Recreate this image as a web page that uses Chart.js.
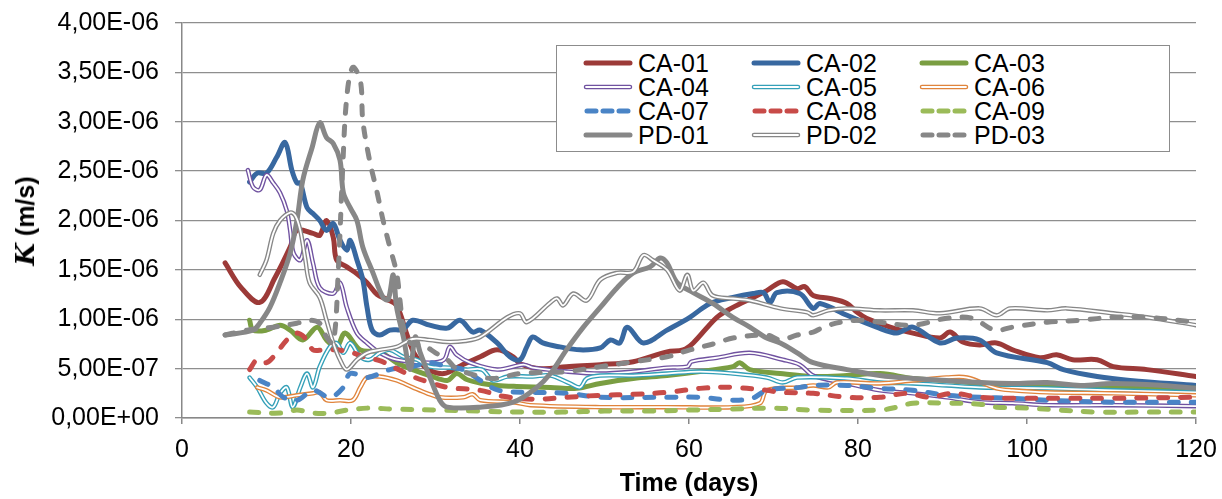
<!DOCTYPE html>
<html>
<head>
<meta charset="utf-8">
<script src="https://cdn.jsdelivr.net/npm/chart.js@4.4.1/dist/chart.umd.min.js"></script>
<style>
  html, body { margin: 0; padding: 0; background: #fff; }
  #wrap { position: relative; width: 1222px; height: 499px; }
  #legend {
    position: absolute; left: 556px; top: 45px; width: 612px; height: 105px;
    border: 1.5px solid #8c8c8c; background: #fff;
    font-family: 'Liberation Sans', Arial, sans-serif; font-size: 25px; color: #000;
  }
  .item { position: absolute; display: flex; align-items: center; height: 24px; white-space: nowrap; }
  .item svg { margin-right: 5px; }
  #ytitle {
    position: absolute; left: 25px; top: 221px; transform: translate(-50%, -50%) rotate(-90deg);
    white-space: nowrap; font: bold 25px 'Liberation Sans', Arial, sans-serif; color: #000;
  }
  #ytitle i { font-family: 'DejaVu Serif', 'Liberation Serif', serif; font-weight: bold; font-size: 26px; }
</style>
</head>
<body>
<div id="wrap">
  <canvas id="chart" width="1222" height="499"></canvas>
  <div id="ytitle"><i>K</i> (m/s)</div>
  <div id="legend"></div>
</div>
<script>
// values: [day, K in 1e-7 m/s]
const UNIT = 1e-7

const labels = ['CA-01', 'CA-02', 'CA-03', 'CA-04', 'CA-05', 'CA-06', 'CA-07', 'CA-08', 'CA-09', 'PD-01', 'PD-02', 'PD-03']

const ca01 = [[5.1,15.7],[7,13.2],[9.2,11.7],[11,14.2],[12.8,17.3],[13.6,19.0],[15.5,18.7],[16.3,18.5],[17.1,20.0],[17.9,18.3],[18.3,16.0],[19.5,15.3],[20.7,14.6],[21.9,13.7],[23.1,12.5],[24.3,12.0],[25.4,11.4],[26.6,8.5],[27.5,6.5],[29,5.0],[31,4.5],[33,5.3],[35.3,6.2],[37.3,6.9],[39.2,6.2],[40,5.5],[42.5,5.0],[45.5,5.2],[49.5,5.4],[53.4,5.7],[57.4,6.7],[59.3,6.9],[60.5,7.6],[63.3,10.2],[65.2,11.2],[67.6,12.2],[69.2,12.9],[71.1,13.8],[72.8,13.1],[73.7,13.3],[74.7,12.4],[76.7,12.1],[78.7,11.6],[79.9,10.7],[81,10.1],[83.8,9.2],[86.5,8.6],[89.7,8.1],[90.9,8.7],[92.4,7.7],[94.4,7.4],[96.4,7.6],[98.3,6.9],[101.5,6.1],[103.5,6.4],[105.4,5.9],[108.3,5.9],[110.2,5.2],[114.2,4.9],[120,4.2]]

const ca02 = [[8.0,23.9],[8.9,24.8],[10.0,24.8],[11.2,26.4],[12.2,27.9],[13.0,25.1],[13.6,23.8],[14.0,23.8],[14.8,21.3],[15.5,20.7],[16.3,20.0],[17.1,19.0],[17.9,19.7],[18.7,18.0],[19.5,17.0],[19.9,18.0],[20.7,16.0],[21.4,14.0],[21.9,11.2],[22.5,8.9],[23.4,8.4],[24.6,8.9],[26.2,9.0],[27.3,9.9],[29.3,9.4],[31.4,9.1],[32.9,9.9],[34.4,8.7],[35.3,8.9],[37.3,7.6],[38.8,6.2],[40,5.9],[40.8,7.2],[41.5,8.2],[42.7,7.6],[44.7,7.2],[47.1,6.9],[49.5,7.1],[50.7,7.9],[51.8,7.6],[52.7,9.2],[54.6,7.6],[57.4,8.9],[60.1,10.2],[62.5,11.6],[65.2,12.2],[67.6,12.6],[68.8,12.7],[69.6,11.7],[70.4,12.7],[73.1,12.6],[74.7,11.1],[75.5,11.6],[78.7,10.4],[82.2,9.2],[84.6,8.6],[86.5,9.2],[89.7,7.6],[91.7,8.1],[94.4,7.9],[96.4,6.6],[102.4,5.6],[104.3,4.9],[108.3,4.2],[112.2,3.8],[120,3.3]]

const ca03 = [[8.0,9.9],[8.4,8.9],[10.0,8.9],[11.6,9.4],[12.8,8.9],[14.3,7.9],[16.0,9.2],[17.1,7.9],[18.3,7.2],[19.3,8.6],[21.1,6.9],[23.4,6.7],[25.4,5.6],[27.3,4.9],[29.3,4.3],[31.4,3.8],[32.5,4.5],[33.7,3.9],[35.5,3.5],[37.3,3.3],[39.6,3.2],[43.6,3.1],[46.7,3.0],[49.5,3.5],[53.4,4.0],[57.4,4.3],[61.3,4.7],[65.2,5.2],[66.0,5.6],[67.2,4.9],[70.8,4.5],[74.7,4.2],[78.7,4.3],[82.6,4.5],[86.5,4.0],[90.5,3.8],[94.4,3.5],[102.4,3.3],[110.2,3.1],[120,3.0]]

const ca04 = [[7.8,25.1],[8.4,23.4],[9.2,23.1],[10.0,24.6],[10.8,23.8],[11.6,22.8],[12.4,21.0],[12.8,19.0],[13.2,16.7],[14.0,16.0],[14.8,18.0],[15.5,15.7],[16.3,13.2],[17.9,12.6],[18.7,13.7],[19.5,11.2],[20.7,8.6],[21.9,7.6],[23.4,6.6],[25.4,5.9],[29.3,5.6],[31.0,5.9],[31.7,7.2],[32.5,6.4],[34.1,5.6],[37.3,4.9],[40.4,5.4],[41.5,5.1],[45.5,4.7],[49.5,4.5],[53.4,4.7],[57.4,5.1],[59.8,5.2],[60.3,5.7],[63.3,6.1],[67.2,6.6],[71.1,5.9],[73.1,5.4],[74.7,4.3],[78.7,3.5],[82.6,2.8],[86.5,2.5],[90.5,2.1],[94.4,1.6],[98.3,1.5],[102.4,1.3],[110.2,1.3],[120,1.2]]

const ca05 = [[8.0,4.1],[8.9,3.1],[10.0,1.5],[10.8,1.1],[11.6,2.5],[12.4,3.1],[13.1,1.1],[14.0,3.1],[14.8,4.5],[15.5,3.1],[16.3,5.2],[17.5,7.2],[18.3,7.6],[19.1,6.6],[19.9,7.6],[21.1,6.2],[22.2,5.9],[23.4,6.6],[24.6,6.9],[26.2,6.2],[27.8,5.9],[29.3,5.2],[31.7,5.1],[33.7,4.9],[35.5,4.9],[36.8,3.8],[38.5,4.2],[41.5,4.2],[43.6,4.3],[45.9,3.5],[47.1,3.1],[47.9,4.0],[49.5,4.3],[53.4,4.3],[57.4,4.5],[61.3,4.7],[65.2,4.5],[69.2,4.1],[71.1,3.6],[72.8,4.1],[78.7,4.0],[82.6,3.6],[86.5,3.5],[90.5,3.3],[94.4,3.1],[102.4,3.0],[110.2,2.8],[120,2.6]]

const ca06 = [[8.9,3.1],[10.0,2.8],[11.6,2.1],[13.6,2.3],[15.5,2.5],[16.3,2.6],[17.1,1.8],[18.7,1.8],[20.2,1.8],[21.1,3.1],[21.9,4.1],[23.4,4.2],[25.4,3.8],[27.3,3.1],[29,2.5],[30.5,2.1],[33.3,2.1],[34.4,2.4],[35.3,1.8],[39.2,1.6],[41.2,1.3],[49.5,1.1],[57.4,1.1],[65.2,1.1],[68.4,1.5],[69.2,2.8],[73.1,3.1],[74.7,3.3],[76.5,3.1],[77.5,3.6],[82.6,3.5],[86.5,3.8],[90.5,4.1],[92.9,4.1],[96.4,3.0],[98.3,2.8],[102.4,2.6],[110.2,2.5],[120,2.3]]

const ca07 = [[9.2,3.8],[10.8,3.1],[12.0,2.1],[13.6,1.8],[15.5,2.8],[17.5,2.1],[19.1,3.1],[19.9,4.5],[21.9,4.1],[24.6,4.9],[27.3,5.2],[29.3,5.6],[31.4,5.2],[33.3,4.9],[35.3,3.8],[37.5,2.8],[41.5,2.6],[45.5,2.5],[49.5,2.1],[57.4,2.1],[61.3,2.1],[65.2,1.8],[67.5,2.0],[69.2,2.8],[73.1,3.1],[74.7,3.3],[78.7,3.3],[82.6,3.0],[86.5,2.8],[90.5,2.3],[94.4,2.1],[98.3,2.0],[102.4,1.8],[110.2,1.6],[120,1.6]]

const ca08 = [[8.0,4.9],[8.9,5.9],[10.0,5.6],[11.2,6.6],[12.4,7.9],[13.6,8.6],[14.8,7.9],[15.5,6.9],[16.7,6.9],[18.3,6.9],[20.2,6.6],[21.4,6.2],[23.4,5.8],[25.4,5.0],[27.3,4.2],[29.3,3.6],[31.4,3.1],[35.3,2.8],[38.0,2.2],[41.5,1.9],[45.5,2.1],[49.5,2.3],[53.4,2.4],[57.4,2.6],[61.3,3.0],[65.2,3.1],[69.2,2.8],[70.8,2.6],[74.7,2.5],[78.7,2.1],[82.6,2.1],[85.8,2.5],[88.5,2.1],[91.2,2.5],[94.4,2.1],[98.3,2.0],[104.0,2.0],[110.2,2.0],[120,2.1]]

const ca09 = [[8.0,0.6],[11.6,0.5],[13.6,0.8],[15.5,0.5],[17.5,0.5],[19.5,0.8],[21.9,1.0],[25,0.9],[30,0.8],[35,0.7],[40,0.6],[45,0.6],[50,0.7],[55,0.7],[60,0.8],[65,0.9],[70,1.0],[74.7,0.8],[82.6,0.8],[84.6,1.1],[86.5,1.5],[90.5,1.5],[94.4,1.4],[96.4,1.1],[100,1.0],[104,0.8],[108.3,0.6],[114,0.6],[120,0.6]]

const pd01 = [[5.1,8.4],[8.4,8.9],[9.2,9.6],[10.4,11.2],[11.6,13.7],[12.8,16.7],[13.6,20.0],[14.3,24.1],[15.4,27.4],[16.3,29.9],[17.1,28.4],[17.9,27.8],[18.7,26.1],[19.1,22.8],[19.9,21.3],[20.7,20.0],[21.4,17.3],[22.6,14.7],[23.8,12.2],[24.4,12.0],[25.0,14.5],[25.4,11.2],[26.2,8.2],[27.0,4.9],[27.6,8.2],[28.2,6.6],[29.3,4.2],[30.5,1.8],[31.4,1.1],[35.3,1.1],[39.2,1.6],[42,3.1],[43.6,4.5],[45.5,6.9],[47.5,9.2],[49.5,11.2],[51.5,13.2],[53.4,14.7],[55.4,15.3],[56.6,16.2],[57.4,15.7],[58.6,13.7],[60.5,12.7],[62.8,11.6],[65.2,10.2],[67.2,9.2],[69.2,8.1],[70.8,7.6],[72.8,6.6],[74.7,5.6],[78.7,4.9],[82.6,4.3],[86.5,4.0],[90.5,3.8],[94.4,3.6],[98.3,3.5],[102.4,3.6],[106.3,3.3],[110.2,3.5],[116.1,3.3],[120,3.0]]

const pd02 = [[9.2,14.5],[10.0,16.0],[10.8,18.7],[11.6,20.0],[12.8,20.8],[13.4,20.5],[14.0,19.0],[14.6,16.0],[15.1,13.7],[16.3,12.2],[17.1,9.9],[17.9,7.6],[18.7,5.9],[19.5,4.9],[20.7,5.9],[21.9,6.6],[23.4,6.9],[25.4,7.2],[27.3,8.0],[29.3,7.9],[31.4,7.7],[33.5,7.8],[35.3,8.2],[38.5,10.2],[40,10.6],[40.8,9.7],[43.6,11.7],[44.4,12.1],[45.1,11.4],[46.3,12.6],[47.9,11.9],[49.5,14.0],[51.5,14.7],[53.4,14.8],[54.6,16.5],[55.7,16.0],[57.4,15.0],[58.9,12.9],[59.8,14.5],[60.5,12.9],[61.7,13.7],[62.8,12.4],[65.2,12.1],[67.2,11.9],[70.8,11.1],[74.0,10.7],[74.7,10.4],[76.5,10.9],[78.7,11.1],[82.6,10.9],[86.5,10.9],[89.7,10.6],[94.4,11.1],[96.4,10.4],[98.0,11.1],[102.4,10.9],[104.7,11.1],[110.2,10.6],[114.2,10.2],[120,9.4]]

const pd03 = [[5.1,8.4],[7.7,8.9],[10.8,9.2],[13.6,9.6],[15.1,9.9],[16.3,9.6],[17.1,8.2],[17.9,7.6],[18.5,15.0],[19.0,25.0],[19.5,32.5],[20.2,35.5],[21.1,34.2],[21.4,30.1],[22.2,26.1],[23.1,22.8],[23.8,20.0],[24.6,17.3],[25.4,14.7],[25.8,11.9],[26.2,9.2],[27.0,7.6],[28.5,7.4],[30,6.6],[31.4,5.9],[32.5,5.0],[35.3,4.2],[37,4.0],[40,4.5],[45.5,4.7],[49.5,5.2],[53.4,5.7],[57.4,6.2],[60.1,6.9],[63.3,7.6],[65.2,8.1],[69.2,8.4],[70.8,7.9],[72.8,8.4],[74.7,8.7],[75.9,9.2],[77.9,9.7],[80.6,9.9],[82.6,9.7],[86.5,9.4],[90.5,10.1],[93.5,10.1],[96.2,8.9],[98.3,9.2],[102.4,9.7],[106.3,9.9],[110.2,10.2],[114.2,10.2],[120,9.7]]

const seriesData = [ca01, ca02, ca03, ca04, ca05, ca06, ca07, ca08, ca09, pd01, pd02, pd03]

// line look per series: solid, double (compound) or dash
const colors = ['#9c3a38', '#3868a0', '#7a9e42', '#7052a0', '#34a0b8', '#e0843c', '#4a84c6', '#c84b48', '#9bbb59', '#878787', '#878787', '#878787']
const kinds = ['solid', 'solid', 'solid', 'double', 'double', 'double', 'dash', 'dash', 'dash', 'solid', 'double', 'dash']

const DASH = [9, 13]

function sci(v) {
  if (Math.abs(v) < 1e-12) return '0,00E+00'
  const [m, e] = v.toExponential(2).split('e')
  const n = parseInt(e, 10)
  return m.replace('.', ',') + 'E' + (n < 0 ? '-' : '+') + String(Math.abs(n)).padStart(2, '0')
}

const datasets = []
labels.forEach((label, i) => {
  const pts = seriesData[i].map(p => ({ x: p[0], y: p[1] * UNIT }))
  const kind = kinds[i]
  datasets.push({
    label: label,
    data: pts,
    borderColor: colors[i],
    borderWidth: kind === 'double' ? 4.5 : 5,
    borderDash: kind === 'dash' ? DASH : [],
    borderCapStyle: 'round',
    borderJoinStyle: 'round',
    pointRadius: 0,
    fill: false,
    tension: 0.35,
    order: (12 - i) * 2,
  })
  if (kind === 'double') {
    // white core on top of the coloured line makes the double stroke
    datasets.push({
      label: label + ' core',
      data: pts,
      borderColor: '#ffffff',
      borderWidth: 1.8,
      borderCapStyle: 'round',
      borderJoinStyle: 'round',
      pointRadius: 0,
      fill: false,
      tension: 0.35,
      order: (12 - i) * 2 - 1,
    })
  }
})

const FONT = "'Liberation Sans', Arial, sans-serif"

new Chart(document.getElementById('chart'), {
  type: 'line',
  data: { datasets: datasets },
  options: {
    responsive: false,
    animation: false,
    devicePixelRatio: 1,
    layout: { padding: { top: 23, right: 26, left: 0, bottom: 0 } },
    plugins: { legend: { display: false }, tooltip: { enabled: false } },
    scales: {
      x: {
        type: 'linear',
        min: 0,
        max: 120,
        afterFit: s => { s.height = 81; s.paddingLeft = 0; s.paddingRight = 0 },
        ticks: { stepSize: 20, color: '#000', font: { family: FONT, size: 25 }, padding: 11, maxRotation: 0 },
        grid: { drawOnChartArea: false, drawTicks: true, tickLength: 6, color: '#888', lineWidth: 1.5 },
        border: { color: '#888', width: 1.5 },
        title: { display: true, text: 'Time (days)', color: '#000', font: { family: FONT, size: 25, weight: 'bold' }, padding: { top: 0, bottom: 0 } },
      },
      y: {
        type: 'linear',
        min: 0,
        max: 4e-6,
        afterFit: s => { s.width = 182; s.paddingTop = 0; s.paddingBottom = 0 },
        ticks: { stepSize: 5e-7, color: '#000', font: { family: FONT, size: 25 }, padding: 16, callback: v => sci(v) },
        grid: { color: '#8e8e8e', lineWidth: 1.3, tickLength: 7 },
        border: { color: '#888', width: 1.5 },
      },
    },
  },
})

// legend: 3 columns x 4 rows inside a framed box
const legend = document.getElementById('legend')
labels.forEach((label, i) => {
  const col = i % 3
  const row = Math.floor(i / 3)
  const item = document.createElement('div')
  item.className = 'item'
  item.style.left = (26 + col * 168) + 'px'
  item.style.top = (5 + row * 24) + 'px'
  const kind = kinds[i]
  let svg = '<svg width="50" height="12">'
  if (kind === 'dash') {
    svg += '<line x1="4" y1="6" x2="46" y2="6" stroke="' + colors[i] + '" stroke-width="5" stroke-linecap="round" stroke-dasharray="9 7"/>'
  } else {
    svg += '<line x1="3" y1="6" x2="47" y2="6" stroke="' + colors[i] + '" stroke-width="' + (kind === 'double' ? 4.5 : 5) + '" stroke-linecap="round"/>'
    if (kind === 'double') svg += '<line x1="3" y1="6" x2="47" y2="6" stroke="#fff" stroke-width="1.8" stroke-linecap="round"/>'
  }
  svg += '</svg>'
  item.innerHTML = svg + '<span>' + label + '</span>'
  legend.appendChild(item)
})
</script>
</body>
</html>
